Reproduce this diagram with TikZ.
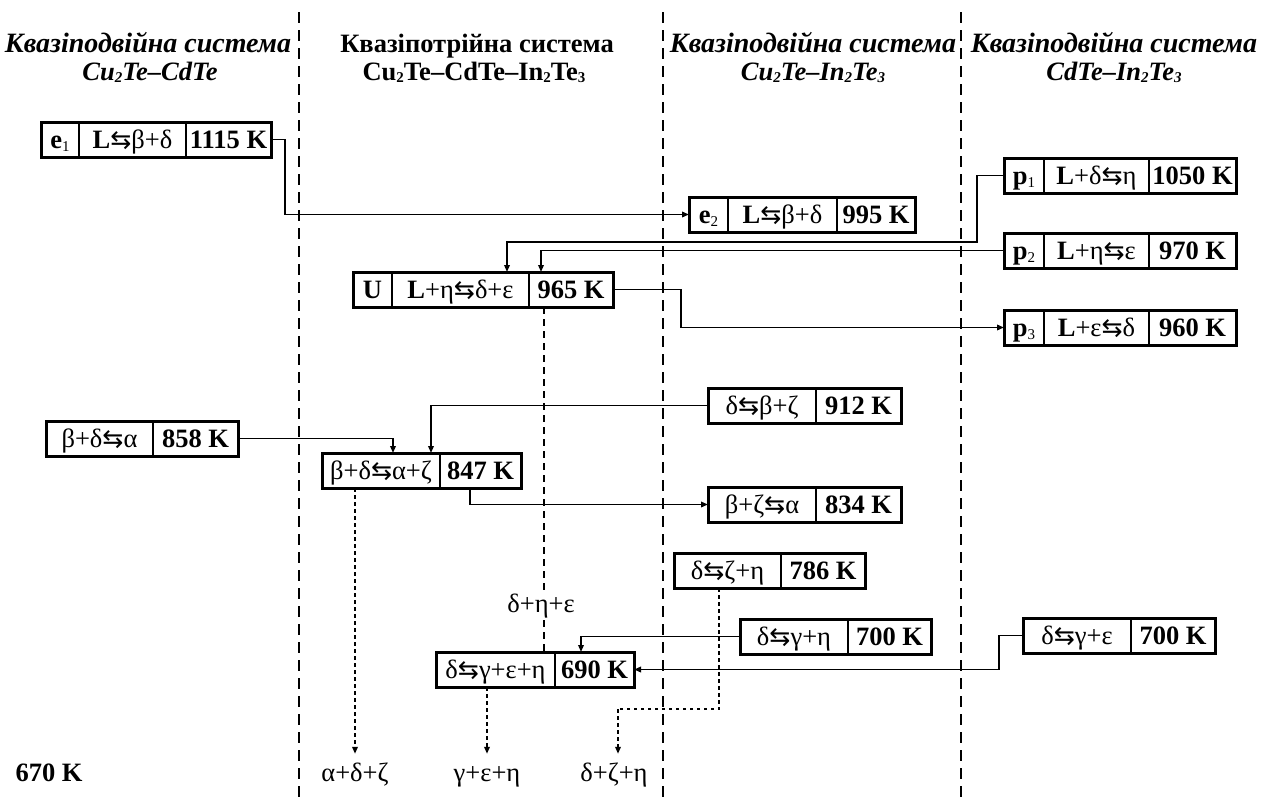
\documentclass[tikz,border=0pt]{standalone}
\usepackage{fontspec}
\setmainfont{Liberation Serif}
\newfontfamily\symf[Scale=0.95]{DejaVu Sans}
\usetikzlibrary{arrows.meta,fit,calc}
\newcommand\rl{{\symf ⇆}}
\newcommand\fs{\fontsize{26.5}{30}\selectfont}
\newcommand\sub[1]{\raisebox{-0.22ex}{\fontsize{15}{15}\selectfont #1}}
\tikzset{
  cell/.style={draw, line width=2pt, minimum height=35pt, inner sep=0pt, outer sep=0pt,
    text height=18pt, text depth=0pt, font=\fs},
  frame/.style={draw, line width=3pt, inner sep=0pt, outer sep=0pt},
  hdr/.style={inner sep=0pt, anchor=base, font=\fs\bfseries},
  hdri/.style={inner sep=0pt, anchor=base, font=\fontsize{28}{30}\selectfont\bfseries\itshape},
  hdrj/.style={inner sep=0pt, anchor=base, font=\fs\bfseries\itshape},
  lbl/.style={inner sep=0pt, anchor=base, text height=18pt, text depth=0pt, font=\fs},
  conn/.style={line width=1.8pt},
  arr/.style={conn, -{Triangle[length=7pt,width=5.5pt]}},
  sepline/.style={line width=2.8pt, dash pattern=on 11pt off 7pt},
  dashthin/.style={line width=1.8pt, dash pattern=on 7pt off 5pt},
  dotarr/.style={line width=1.8pt, dash pattern=on 3.5pt off 3.5pt, -{Triangle[length=7pt,width=5.5pt]}},
  dotl/.style={line width=1.8pt, dash pattern=on 3.5pt off 3.5pt}
}
\newcommand\tribox[8]{%
  \node[cell, minimum width=#3pt, anchor=north west] (#1-1) at #2 {#6};
  \node[cell, minimum width=#4pt, anchor=north west] (#1-2) at (#1-1.north east) {#7};
  \node[cell, minimum width=#5pt, anchor=north west] (#1-3) at (#1-2.north east) {#8};
  \node[frame, fit=(#1-1)(#1-3)] (#1) {};}
\newcommand\duobox[6]{%
  \node[cell, minimum width=#3pt, anchor=north west] (#1-1) at #2 {#5};
  \node[cell, minimum width=#4pt, anchor=north west] (#1-2) at (#1-1.north east) {#6};
  \node[frame, fit=(#1-1)(#1-2)] (#1) {};}
\begin{document}
\begin{tikzpicture}[x=1pt,y=-1pt]
\fill[white] (0,0) rectangle (1265,798);
\useasboundingbox (0,0) rectangle (1265,798);
% separators
\draw[sepline] (299,12) -- (299,798);
\draw[sepline] (663,12) -- (663,798);
\draw[sepline] (961,12) -- (961,798);
% headers
\node[hdri] (h1a) at (148,52) {Квазіподвійна система};
\node[hdrj] (h1b) at (150,80) {Cu\sub{2}Te–CdTe};
\node[hdr] (h2a) at (477,52) {Квазіпотрійна система};
\node[hdr] (h2b) at (474,80) {Cu\sub{2}Te–CdTe–In\sub{2}Te\sub{3}};
\node[hdri] (h3a) at (813,52) {Квазіподвійна система};
\node[hdrj] (h3b) at (813,80) {Cu\sub{2}Te–In\sub{2}Te\sub{3}};
\node[hdri] (h4a) at (1114,52) {Квазіподвійна система};
\node[hdrj] (h4b) at (1114,80) {CdTe–In\sub{2}Te\sub{3}};
% boxes
\tribox{e1}{(41,122)}{38}{107}{85}{\textbf{e}\sub{1}}{\textbf{L}\rl β+δ}{\textbf{1115 K}}
\tribox{e2}{(689,197)}{39}{109}{78}{\textbf{e}\sub{2}}{\textbf{L}\rl β+δ}{\textbf{995 K}}
\tribox{p1}{(1004,158)}{40}{105}{87}{\textbf{p}\sub{1}}{\textbf{L}+δ\rl η}{\textbf{1050 K}}
\tribox{p2}{(1004,233)}{40}{105}{87}{\textbf{p}\sub{2}}{\textbf{L}+η\rl ε}{\textbf{970 K}}
\tribox{p3}{(1004,310)}{40}{105}{87}{\textbf{p}\sub{3}}{\textbf{L}+ε\rl δ}{\textbf{960 K}}
\tribox{U}{(353,272)}{39}{137}{84}{\textbf{U}}{\textbf{L}+η\rl δ+ε}{\textbf{965 K}}
\duobox{d912}{(708,388)}{108}{85}{δ\rl β+ζ}{\textbf{912 K}}
\duobox{d834}{(708,487)}{108}{85}{β+ζ\rl α}{\textbf{834 K}}
\duobox{d858}{(46,421)}{107}{85}{β+δ\rl α}{\textbf{858 K}}
\duobox{d847}{(322,453)}{118}{81}{β+δ\rl α+ζ}{\textbf{847 K}}
\duobox{d786}{(674,553)}{107}{84}{δ\rl ζ+η}{\textbf{786 K}}
\duobox{d700a}{(740,619)}{108}{83}{δ\rl γ+η}{\textbf{700 K}}
\duobox{d690}{(436,652)}{119}{79}{δ\rl γ+ε+η}{\textbf{690 K}}
\duobox{d700b}{(1023,618)}{108}{84}{δ\rl γ+ε}{\textbf{700 K}}
% labels
\node[lbl, font=\fs\bfseries] (t670) at (49,781) {670 K};
\node[lbl] (la) at (355,781) {α+δ+ζ};
\node[lbl] (lb) at (487,781) {γ+ε+η};
\node[lbl] (lc) at (614,781) {δ+ζ+η};
\node[lbl] (ld) at (541,612) {δ+η+ε};
% coordinates
\coordinate (u1) at (507,272);
\coordinate (u2) at (541,272);
\coordinate (u3) at (544,307);
\coordinate (k1) at (393,453);
\coordinate (k2) at (431,453);
\coordinate (k3) at (470,488);
\coordinate (m1) at (581,652);
\coordinate (q1) at (355,488);
\coordinate (q2) at (487,687);
\coordinate (r1) at (719,588);
\coordinate (r2) at (618,709);
% connectors
\draw[arr] (e1.east) -- ++(14,0) |- (e2.west);
\draw[arr] (p1.west) -- ++(-27,0) |- ($(u1)+(0,-30)$) -- (u1);
\draw[arr] (p2.west) -| (u2);
\draw[arr] (U.east) -- ++(68,0) |- (p3.west);
\draw[arr] (d912.west) -| (k2);
\draw[arr] (d858.east) -| (k1);
\draw[arr] (k3) |- (d834.west);
\draw[arr] (d700a.west) -| (m1);
\draw[arr] (d700b.west) -- ++(-24,0) |- (d690.east);
\draw[dashthin] (u3) -- (u3 |- ld.north);
\draw[dashthin] ($(u3 |- ld.south)+(0,8)$) -- (u3 |- d690.north);
\draw[dotarr, shorten >=9pt] (q1) -- (q1 |- la.north);
\draw[dotarr, shorten >=9pt] (q2) -- (q2 |- lb.north);
\draw[dotl] (r1) |- (r2);
\draw[dotarr, shorten >=9pt] (r2) -- (r2 |- lc.north);
\end{tikzpicture}
\end{document}
